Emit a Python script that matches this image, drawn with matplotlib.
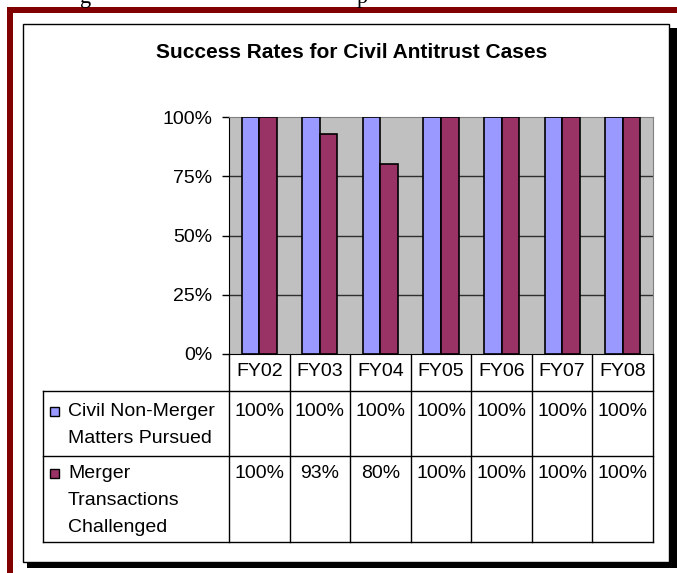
import matplotlib; matplotlib.use("Agg")
import matplotlib.pyplot as plt
from matplotlib.patches import Rectangle
import numpy as np

# --- dados ---
YEARS = ["FY02", "FY03", "FY04", "FY05", "FY06", "FY07", "FY08"]
CIVIL = [100, 100, 100, 100, 100, 100, 100]
MERGER = [100, 93, 80, 100, 100, 100, 100]
SERIES = ["Civil Non-Merger\nMatters Pursued", "Merger\nTransactions\nChallenged"]
COLORS = ["#9999FF", "#993366"]
TITLE = "Success Rates for Civil Antitrust Cases"

W, H = 677, 573
FS = 14
plt.rcParams["font.family"] = ["Liberation Sans", "DejaVu Sans"]
fig = plt.figure(figsize=(W/100, H/100), dpi=100)
fig.patch.set_facecolor("white")

# camada de fundo em pixels (moldura, sombra, tabela)
bg = fig.add_axes([0, 0, 1, 1], zorder=0)
bg.set_xlim(0, W); bg.set_ylim(H, 0); bg.axis("off")
bg.add_patch(Rectangle((7, 7), W-7, 6, color="#800000", lw=0))
bg.add_patch(Rectangle((7, 7), 6, H-7, color="#800000", lw=0))
bg.add_patch(Rectangle((27, 28), W-27, 540, color="black", lw=0))
bg.add_patch(Rectangle((23, 24), 646, 538, facecolor="white", edgecolor="black", lw=1))
# fragmentos do texto cortado no topo da pagina
bg.text(86, 3, "g", family="Liberation Serif", fontsize=16, ha="center", va="baseline")
bg.text(362, 3, "p", family="Liberation Serif", fontsize=16, ha="center", va="baseline")

bg.text(352, 53, TITLE, fontsize=15, weight="bold", ha="center", va="center")

# --- grafico de barras ---
L, R, T, B = 229, 653, 117, 354
ax = fig.add_axes([L/W, 1-B/H, (R-L)/W, (B-T)/H], zorder=1)
ax.set_facecolor("#C0C0C0")
x = np.arange(len(YEARS))
bw = 0.29
ax.bar(x-bw/2, CIVIL, bw, color=COLORS[0], edgecolor="black", lw=1.2, zorder=3)
ax.bar(x+bw/2, MERGER, bw, color=COLORS[1], edgecolor="black", lw=1.2, zorder=3)
ax.set_xlim(-0.5, len(YEARS)-0.5); ax.set_ylim(0, 100)
ax.set_yticks([0, 25, 50, 75, 100])
ax.set_yticklabels([f"{v}%" for v in [0, 25, 50, 75, 100]], fontsize=FS)
ax.tick_params(axis="y", length=5, width=1, pad=7, direction="out")
ax.set_xticks([])
for v in (25, 50, 75):
    ax.axhline(v, color="#303030", lw=1, zorder=1)
for s in ("top", "right"):
    ax.spines[s].set_color("#808080")
for s in ("left", "bottom"):
    ax.spines[s].set_color("black")

# --- tabela de dados ---
cw = (R-L)/len(YEARS)
edges = [L + i*cw for i in range(len(YEARS)+1)]
TL = 43
r1, r2, r3 = 391, 456, 542
lk = dict(color="black", lw=1)
for xe in edges:
    bg.plot([xe, xe], [B, r3], **lk)
bg.plot([TL, TL], [r1, r3], **lk)
for yy in (r1, r2, r3):
    bg.plot([TL, R], [yy, yy], **lk)
for i, yl in enumerate(YEARS):
    bg.text((edges[i]+edges[i+1])/2, 372, yl, fontsize=FS, ha="center", va="center")
for row, (vals, lab, col, y0) in enumerate(zip([CIVIL, MERGER], SERIES, COLORS, [411, 473])):
    bg.add_patch(Rectangle((50, y0-4), 9, 9, facecolor=col, edgecolor="black", lw=1))
    for k, line in enumerate(lab.split("\n")):
        bg.text(68, y0 + k*27.5, line, fontsize=FS, ha="left", va="center")
    for i, v in enumerate(vals):
        bg.text((edges[i]+edges[i+1])/2, y0, f"{v}%", fontsize=FS, ha="center", va="center")

fig.savefig("out.png", dpi=100, facecolor="white")
